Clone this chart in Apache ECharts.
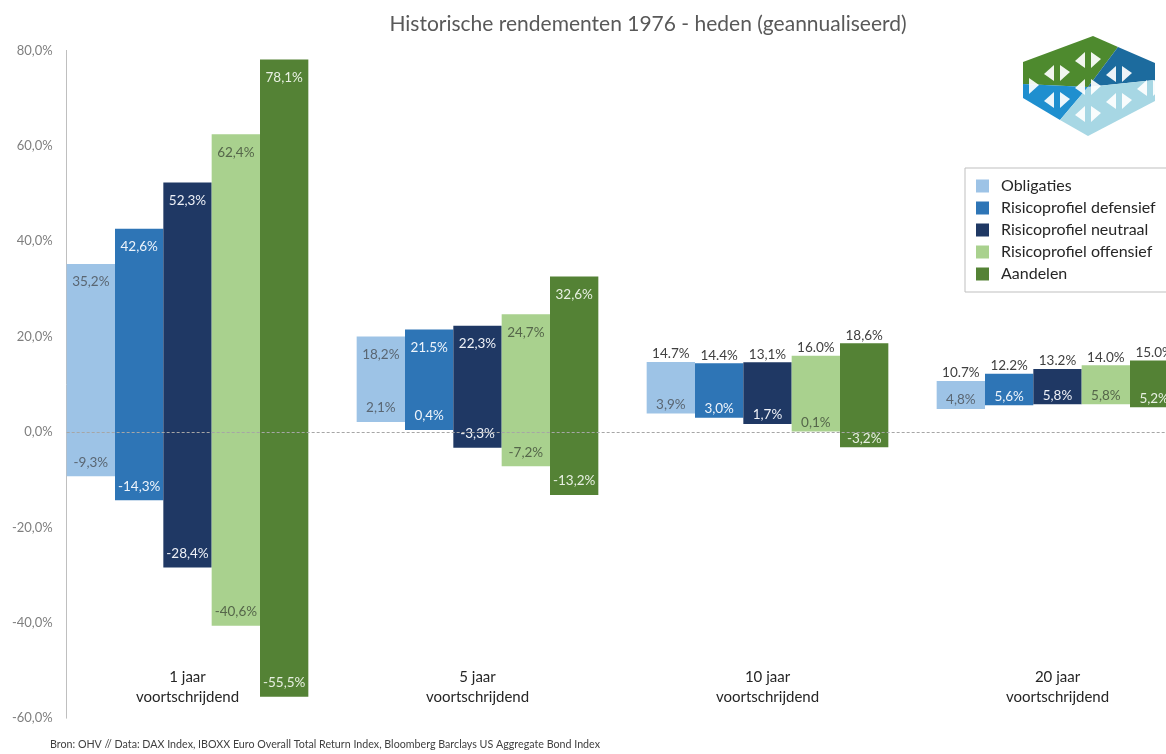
<!DOCTYPE html>
<html>
<head>
<meta charset="utf-8">
<script src="https://cdn.jsdelivr.net/npm/echarts@6/dist/echarts.min.js"></script>
<style>
html,body{margin:0;padding:0;background:#fff;}
#chart{width:1166px;height:754px;}
</style>
</head>
<body>
<div id="chart"></div>
<script>
const titleText = 'Historische rendementen 1976 - heden (geannualiseerd)';
const sourceText = 'Bron: OHV // Data: DAX Index, IBOXX Euro Overall Total Return Index, Bloomberg Barclays US Aggregate Bond Index';
const categories = ['1 jaar\nvoortschrijdend', '5 jaar\nvoortschrijdend', '10 jaar\nvoortschrijdend', '20 jaar\nvoortschrijdend'];
const seriesNames = ['Obligaties', 'Risicoprofiel defensief', 'Risicoprofiel neutraal', 'Risicoprofiel offensief', 'Aandelen'];
const yTicks = [-60, -40, -20, 0, 20, 40, 60, 80];

// highest / lowest annualised return per horizon (bar ends as drawn)
const obligatiesHigh = [35.2, 20.0, 14.7, 10.7];
const obligatiesLow  = [-9.3, 2.1, 3.9, 4.8];
const defensiefHigh  = [42.6, 21.5, 14.4, 12.2];
const defensiefLow   = [-14.3, 0.4, 3.0, 5.6];
const neutraalHigh   = [52.3, 22.3, 14.6, 13.2];
const neutraalLow    = [-28.4, -3.3, 1.7, 5.8];
const offensiefHigh  = [62.4, 24.7, 16.0, 14.0];
const offensiefLow   = [-40.6, -7.2, 0.1, 5.8];
const aandelenHigh   = [78.1, 32.6, 18.6, 15.0];
const aandelenLow    = [-55.5, -13.2, -3.2, 5.2];

// data labels as printed
const obligatiesHighLabels = ['35,2%', '18,2%', '14.7%', '10.7%'];
const obligatiesLowLabels  = ['-9,3%', '2,1%', '3,9%', '4,8%'];
const defensiefHighLabels  = ['42,6%', '21.5%', '14.4%', '12.2%'];
const defensiefLowLabels   = ['-14,3%', '0,4%', '3,0%', '5,6%'];
const neutraalHighLabels   = ['52,3%', '22,3%', '13,1%', '13.2%'];
const neutraalLowLabels    = ['-28,4%', '-3,3%', '1,7%', '5,8%'];
const offensiefHighLabels  = ['62,4%', '24,7%', '16.0%', '14.0%'];
const offensiefLowLabels   = ['-40,6%', '-7,2%', '0,1%', '5,8%'];
const aandelenHighLabels   = ['78,1%', '32,6%', '18,6%', '15.0%'];
const aandelenLowLabels    = ['-55,5%', '-13,2%', '-3,2%', '5,2%'];

const highs = [obligatiesHigh, defensiefHigh, neutraalHigh, offensiefHigh, aandelenHigh];
const lows = [obligatiesLow, defensiefLow, neutraalLow, offensiefLow, aandelenLow];
const highLabels = [obligatiesHighLabels, defensiefHighLabels, neutraalHighLabels, offensiefHighLabels, aandelenHighLabels];
const lowLabels = [obligatiesLowLabels, defensiefLowLabels, neutraalLowLabels, offensiefLowLabels, aandelenLowLabels];

const colors = ['#9DC3E6', '#2E75B6', '#1F3864', '#A9D18E', '#548235'];
const labelColors = ['#5a6672', '#eef4fb', '#eef1f7', '#55664a', '#e8f0e2'];
const FONT = 'Lato, "Open Sans", sans-serif';

const chart = echarts.init(document.getElementById('chart'), null, {renderer: 'canvas'});

function renderItem(params, api) {
  const si = params.seriesIndex;
  const di = params.dataIndex;
  const cat = api.value(0);
  const lo = api.value(1);
  const hi = api.value(2);
  const pLo = api.coord([cat, lo]);
  const pHi = api.coord([cat, hi]);
  const band = api.size([1, 0])[0];
  const bw = band / 6;
  const cx = pLo[0] + (si - 2) * bw;
  const outside = cat >= 2;
  const topY = outside ? pHi[1] - 8 : pHi[1] + 18;
  const botY = pLo[1] - (outside ? 9 : 14);
  return {
    type: 'group',
    children: [
      {type: 'rect', shape: {x: cx - bw / 2, y: pHi[1], width: bw, height: pLo[1] - pHi[1]},
       style: {fill: colors[si]}},
      {type: 'text', z2: 10, style: {text: highLabels[si][di], x: cx, y: topY, align: 'center', verticalAlign: 'middle',
        fill: outside ? '#404040' : labelColors[si], fontSize: 13.5, fontFamily: FONT}},
      {type: 'text', z2: 10, style: {text: lowLabels[si][di], x: cx, y: botY, align: 'center', verticalAlign: 'middle',
        fill: labelColors[si], fontSize: 13.5, fontFamily: FONT}}
    ]
  };
}

const series = seriesNames.map((name, si) => ({
  name: name,
  type: 'custom',
  renderItem: renderItem,
  itemStyle: {color: colors[si]},
  encode: {x: 0, y: [1, 2]},
  data: categories.map((c, ci) => [ci, lows[si][ci], highs[si][ci]])
}));

// logo (decoration)
const T = [1093, 36], R = [1155, 63], Rb = [1155, 101], B = [1088, 136], Lb = [1023, 98], L = [1023, 62];
const C = [1088, 87];
const Mtop = [1118, 47], Mright = [1155, 80], Mleft = [1023, 84], Mbot = [1060, 120];
const logo = [
  {type: 'polygon', shape: {points: [L, T, Mtop, C, Mleft]}, style: {fill: '#4E8A2E'}},
  {type: 'polygon', shape: {points: [Mtop, R, Mright, C]}, style: {fill: '#1C6B9E'}},
  {type: 'polygon', shape: {points: [Mleft, C, Mbot, Lb]}, style: {fill: '#1F8FCF'}},
  {type: 'polygon', shape: {points: [C, Mright, Rb, B, Mbot]}, style: {fill: '#A7D7E4'}}
];
const cells = [[-1, -1], [-1, 0], [0, -1], [0, 0], [0, 1], [1, 0], [1, 1], [-1, 1], [1, -1]];
const a = [31, 14], b = [31, -13];
cells.forEach(([i, j]) => {
  const x = C[0] + i * a[0] + j * b[0];
  const y = C[1] + i * a[1] + j * b[1];
  logo.push({type: 'polygon', shape: {points: [[x - 3, y - 8], [x - 3, y + 8], [x - 13, y + 1]]}, style: {fill: 'rgba(255,255,255,0.92)'}});
  logo.push({type: 'polygon', shape: {points: [[x + 3, y - 8], [x + 3, y + 8], [x + 13, y - 1]]}, style: {fill: 'rgba(255,255,255,0.92)'}});
});

function graphics(extra) {
  return [
    {type: 'text', left: 50, top: 739, style: {text: sourceText, fontFamily: FONT, fontSize: 10.7, fill: '#404040'}},
    {type: 'group', children: logo}
  ].concat(extra || []);
}

chart.setOption({
  animation: false,
  backgroundColor: '#ffffff',
  title: {
    text: titleText, left: 643, top: 9, textAlign: 'center',
    textStyle: {fontFamily: FONT, fontSize: 21, fontWeight: 'normal', color: '#595959'}
  },
  legend: {
    data: seriesNames, orient: 'vertical', left: 965, top: 168,
    icon: 'rect', itemWidth: 13, itemHeight: 13, itemGap: 6,
    padding: [10, 60, 10, 11],
    borderColor: '#bfbfbf', borderWidth: 1,
    textStyle: {fontFamily: FONT, fontSize: 16, color: '#262626', padding: [0, 0, 0, 7]}
  },
  grid: {left: 42.5, top: 50.4, width: 1160, height: 667.8, containLabel: false, outerBoundsMode: 'none'},
  xAxis: {
    type: 'category', data: categories, position: 'bottom', offset: -51,
    axisLine: {show: false}, axisTick: {show: false},
    axisLabel: {margin: 0, fontFamily: FONT, fontSize: 15, color: '#262626', lineHeight: 20}
  },
  yAxis: {
    type: 'value', min: -60, max: 80, interval: 20, offset: -24.2,
    axisLine: {show: true, lineStyle: {color: '#bfbfbf', width: 1}},
    axisTick: {show: false}, splitLine: {show: false},
    axisLabel: {margin: 14, fontFamily: FONT, fontSize: 13, color: '#7f7f7f',
      formatter: v => (yTicks.indexOf(v) >= 0 ? v.toFixed(1).replace('.', ',') + '%' : '')}
  },
  series: series,
  graphic: graphics()
});

// zero reference line, positioned via the chart's own scales
const y0 = chart.convertToPixel({yAxisIndex: 0}, 0);
const c0 = chart.convertToPixel({xAxisIndex: 0}, 0);
const c1 = chart.convertToPixel({xAxisIndex: 0}, 1);
const firstBarLeft = c0 - 2.5 * ((c1 - c0) / 6);
chart.setOption({
  graphic: graphics([
    {type: 'line', z: 100, shape: {x1: firstBarLeft, y1: Math.round(y0) + 0.5, x2: 1166, y2: Math.round(y0) + 0.5},
     style: {stroke: '#a6a6a6', lineWidth: 1, lineDash: [3, 2]}}
  ])
});
</script>
</body>
</html>
